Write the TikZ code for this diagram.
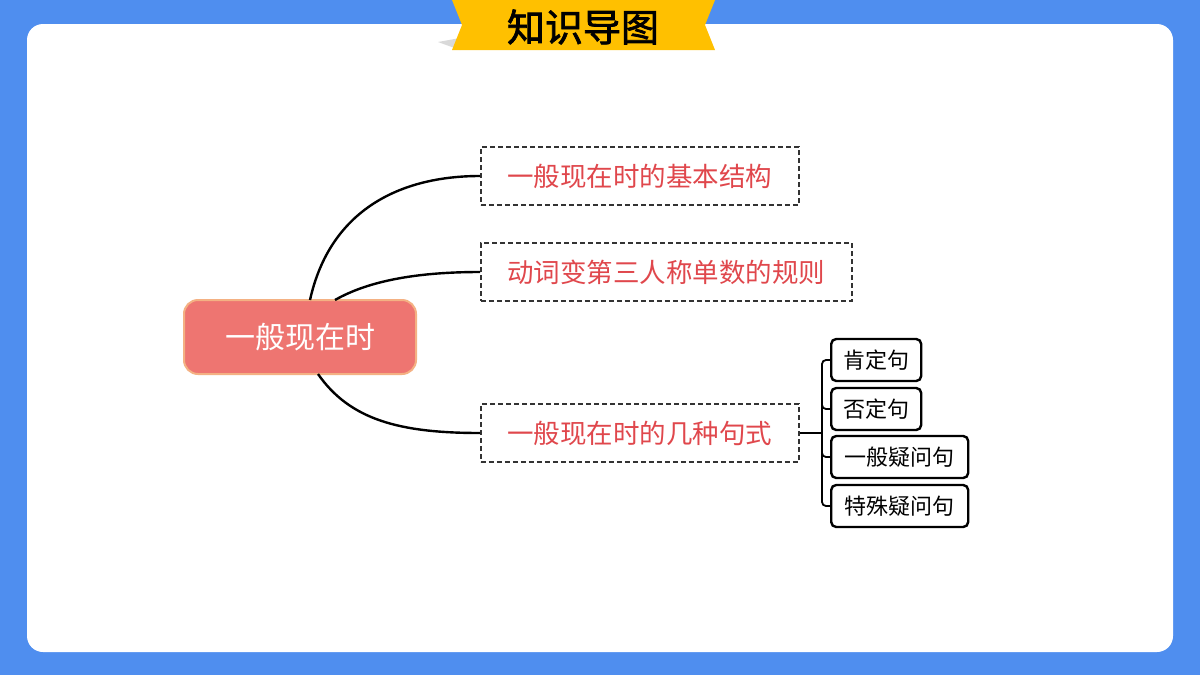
\documentclass[tikz,border=0pt]{standalone}
\usepackage{fontspec}
\setmainfont{Noto Sans CJK SC}
\newfontfamily\cjkb[FakeBold=2]{Noto Sans CJK SC}
\definecolor{bg}{HTML}{4F8EEF}
\definecolor{ban}{HTML}{FFC000}
\definecolor{redt}{HTML}{E0474C}
\definecolor{cen}{HTML}{EE7571}
\definecolor{cenb}{HTML}{F4B183}
\tikzset{
 dbox/.style={draw=black!80,dash pattern=on 5pt off 3pt,line width=1.8pt,minimum height=58pt,anchor=west,inner xsep=14pt,text=redt,font=\fontsize{26.5}{30}\selectfont},
 sbox/.style={draw=black,line width=2.4pt,rounded corners=5pt,minimum height=42pt,anchor=west,inner xsep=8pt,font=\fontsize{22}{25}\selectfont},
 conn/.style={line width=2.4pt,black}
}
\begin{document}
\begin{tikzpicture}[x=1pt,y=-1pt]
\useasboundingbox (0,0) rectangle (1200,675);
\fill[bg] (0,0) rectangle (1200,675);
\fill[white,rounded corners=16pt] (27,24) rectangle (1173,652);
\fill[black!15] (438,42) -- (460,38) -- (460,50) -- cycle;
\fill[ban] (452,0) -- (715,0) -- (705,25) -- (715,50) -- (452,50) -- (462,25) -- cycle;
\node (title) at (583,27) {\cjkb\fontsize{38}{42}\selectfont 知识导图};
\node[draw=cenb,line width=2pt,fill=cen,rounded corners=14pt,minimum width=232pt,minimum height=74pt,text=white,font=\fontsize{30}{34}\selectfont] (c) at (300,337) {一般现在时};
\node[dbox,minimum width=318pt] (b1) at (480,176) {一般现在时的基本结构};
\node[dbox,minimum width=371pt] (b2) at (480,272) {动词变第三人称单数的规则};
\node[dbox,minimum width=318pt] (b3) at (480,433) {一般现在时的几种句式};
\draw[conn] (310,300) .. controls (330,210) and (400,176) .. (b1.west);
\draw[conn] (335,300) .. controls (370,280) and (420,272) .. (b2.west);
\draw[conn] (318,374) .. controls (350,420) and (400,433) .. (b3.west);
\node[sbox,minimum width=90pt] (s1) at (830,360) {肯定句};
\node[sbox,minimum width=90pt] (s2) at (830,409) {否定句};
\node[sbox,minimum width=137pt] (s3) at (830,457) {一般疑问句};
\node[sbox,minimum width=137pt] (s4) at (830,506) {特殊疑问句};
\coordinate (j) at (822,433);
\draw[line width=1.8pt] (b3.east) -- (j);
\draw[line width=1.8pt,rounded corners=4pt] (s1.west) -- (822,360) -- (822,506) -- (s4.west);
\draw[line width=1.8pt,rounded corners=4pt] (822,395) |- (s2.west);
\draw[line width=1.8pt,rounded corners=4pt] (822,440) |- (s3.west);
\end{tikzpicture}
\end{document}
